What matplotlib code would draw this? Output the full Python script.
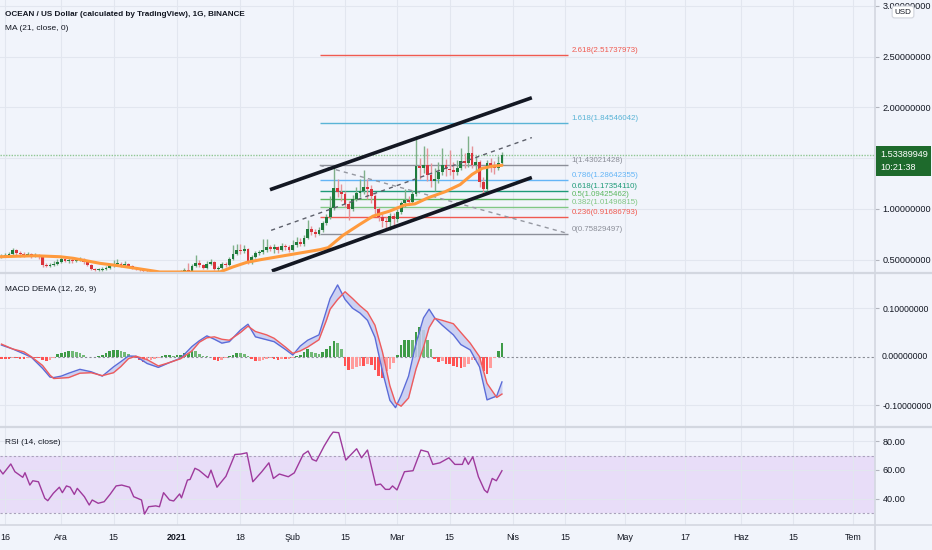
import matplotlib
matplotlib.use('Agg')
import matplotlib.pyplot as plt
import matplotlib.transforms as mtransforms
from matplotlib.lines import Line2D
import numpy as np

# daily candles, day 0 = 1 Jan 2021 (first candle 15 Nov 2020)
day0 = -47
first_open = 0.53
closes = [0.54, 0.55, 0.56, 0.60, 0.57, 0.56, 0.55, 0.56, 0.54, 0.55,
          0.53, 0.45, 0.44, 0.45, 0.46, 0.48, 0.51, 0.49, 0.50, 0.49,
          0.50, 0.51, 0.48, 0.45, 0.41, 0.40, 0.40, 0.41, 0.42, 0.44,
          0.46, 0.46, 0.45, 0.46, 0.44, 0.42, 0.41, 0.40, 0.39, 0.385,
          0.39, 0.385, 0.38, 0.385, 0.38, 0.38, 0.385, 0.38, 0.39, 0.40,
          0.39, 0.44, 0.47, 0.45, 0.42, 0.46, 0.48, 0.41, 0.42, 0.46,
          0.45, 0.51, 0.56, 0.60, 0.59, 0.61, 0.48, 0.53, 0.57, 0.58,
          0.60, 0.63, 0.61, 0.63, 0.60, 0.64, 0.63, 0.60, 0.65, 0.68,
          0.66, 0.71, 0.80, 0.77, 0.75, 0.79, 0.86, 0.92, 1.01, 1.21,
          1.17, 1.15, 1.05, 1.00, 1.10, 1.16, 1.18, 1.22, 1.20, 1.13,
          1.00, 0.92, 0.88, 0.87, 0.93, 0.90, 0.97, 1.06, 1.09, 1.07,
          1.15, 1.42, 1.40, 1.43, 1.33, 1.28, 1.30, 1.36, 1.43, 1.39,
          1.38, 1.36, 1.40, 1.47, 1.45, 1.55, 1.43, 1.46, 1.27, 1.20,
          1.45, 1.42, 1.40, 1.45, 1.53389949]
highs = [0.56, 0.57, 0.58, 0.62, 0.61, 0.59, 0.58, 0.58, 0.57, 0.57,
         0.56, 0.54, 0.47, 0.47, 0.49, 0.51, 0.53, 0.52, 0.52, 0.53,
         0.52, 0.53, 0.52, 0.49, 0.46, 0.42, 0.42, 0.43, 0.44, 0.46,
         0.50, 0.51, 0.48, 0.49, 0.47, 0.45, 0.43, 0.42, 0.41, 0.40,
         0.40, 0.395, 0.39, 0.39, 0.39, 0.385, 0.39, 0.39, 0.40, 0.42,
         0.47, 0.46, 0.55, 0.50, 0.46, 0.49, 0.51, 0.49, 0.44, 0.48,
         0.48, 0.53, 0.65, 0.66, 0.66, 0.65, 0.62, 0.55, 0.59, 0.60,
         0.70, 0.70, 0.65, 0.66, 0.64, 0.67, 0.66, 0.65, 0.69, 0.72,
         0.71, 0.74, 0.89, 0.83, 0.80, 0.82, 0.88, 0.95, 1.13, 1.42,
         1.30, 1.25, 1.18, 1.08, 1.14, 1.22, 1.30, 1.38, 1.30, 1.24,
         1.15, 1.02, 0.95, 0.92, 0.96, 0.96, 1.00, 1.08, 1.20, 1.13,
         1.19, 1.72, 1.50, 1.62, 1.60, 1.45, 1.40, 1.46, 1.60, 1.49,
         1.58, 1.46, 1.48, 1.60, 1.55, 1.72, 1.62, 1.52, 1.48, 1.31,
         1.48, 1.50, 1.47, 1.52, 1.56]
lows = [0.52, 0.53, 0.54, 0.55, 0.54, 0.53, 0.53, 0.54, 0.52, 0.53,
        0.51, 0.43, 0.43, 0.43, 0.44, 0.45, 0.47, 0.48, 0.47, 0.47,
        0.48, 0.49, 0.46, 0.44, 0.40, 0.39, 0.39, 0.39, 0.40, 0.41,
        0.43, 0.44, 0.43, 0.44, 0.43, 0.41, 0.40, 0.39, 0.38, 0.38,
        0.38, 0.38, 0.375, 0.375, 0.375, 0.375, 0.375, 0.375, 0.375, 0.385,
        0.38, 0.385, 0.43, 0.43, 0.41, 0.41, 0.45, 0.40, 0.39, 0.41,
        0.43, 0.44, 0.50, 0.55, 0.56, 0.57, 0.46, 0.46, 0.52, 0.55,
        0.56, 0.58, 0.59, 0.57, 0.57, 0.59, 0.60, 0.58, 0.59, 0.63,
        0.64, 0.64, 0.70, 0.74, 0.72, 0.74, 0.77, 0.84, 0.90, 0.99,
        1.12, 1.08, 1.02, 0.89, 0.98, 1.08, 1.12, 1.15, 1.10, 1.06,
        0.95, 0.88, 0.82, 0.80, 0.79, 0.84, 0.87, 0.95, 1.02, 1.04,
        1.05, 1.13, 1.30, 1.35, 1.28, 1.22, 1.18, 1.26, 1.33, 1.32,
        1.33, 1.30, 1.33, 1.38, 1.40, 1.41, 1.40, 1.38, 1.22, 1.15,
        1.18, 1.36, 1.34, 1.38, 1.43]

# MA (21, close)
ma_days = [-47.4, -38, -31.3, -27.8, -20.6, -15.3, -9.9, -4.6, 11.5, 15, 18.7,
           22.2, 31, 38.3, 40.5, 44.4, 49, 52.5, 57, 61, 63.7, 67.2, 71.8,
           75.8, 79, 81.7, 84.3, 87]
ma_vals = [0.53, 0.54, 0.53, 0.515, 0.465, 0.44, 0.41, 0.38, 0.38, 0.43, 0.475,
           0.50, 0.555, 0.60, 0.62, 0.74, 0.85, 0.93, 0.98, 1.04, 1.05, 1.11,
           1.17, 1.24, 1.34, 1.40, 1.42, 1.43]

# MACD DEMA (12, 26, 9)
macd_days = [-47, -44, -41, -39, -36, -34, -33, -31, -29, -26, -23, -20, -17, -15,
             -13, -11, -8, -5, -2, 1, 4, 6, 8, 10, 12, 14, 17, 19, 21, 24, 26, 29,
             31, 33, 35, 38, 40, 41, 43, 45, 47, 49, 51, 53, 55, 57, 58.5, 60, 62,
             64, 66, 67.5, 69, 71, 74, 76, 78.5, 81, 83, 85.6, 87]
macd_line = [0.024, 0.016, 0.006, -0.001, -0.024, -0.042, -0.043, -0.040, -0.034,
             -0.026, -0.031, -0.040, -0.021, -0.010, 0.0015, 0.001, -0.014, -0.022,
             -0.012, -0.003, 0.021, 0.033, 0.043, 0.036, 0.028, 0.031, 0.055, 0.067,
             0.041, 0.035, 0.031, 0.015, 0.0035, 0.022, 0.034, 0.045, 0.095, 0.120,
             0.148, 0.118, 0.100, 0.090, 0.075, 0.040, -0.030, -0.090, -0.105,
             -0.080, -0.040, 0.028, 0.080, 0.098, 0.080, 0.065, 0.045, 0.025, 0.014,
             -0.021, -0.089, -0.081, -0.052]
signal_line = [0.026, 0.016, 0.010, 0.000, -0.018, -0.038, -0.045, -0.044, -0.043,
               -0.034, -0.033, -0.039, -0.033, -0.020, -0.004, 0.001, -0.006, -0.019,
               -0.012, -0.004, 0.012, 0.030, 0.039, 0.041, 0.036, 0.034, 0.050, 0.063,
               0.052, 0.045, 0.038, 0.020, 0.007, 0.012, 0.020, 0.035, 0.075, 0.098,
               0.118, 0.134, 0.120, 0.105, 0.092, 0.065, 0.010, -0.060, -0.095,
               -0.102, -0.085, -0.025, 0.020, 0.060, 0.079, 0.075, 0.068, 0.050,
               0.028, 0.000, -0.055, -0.084, -0.077]
hist = [-0.004, -0.004, -0.004, -0.003, -0.003, -0.004, -0.005, -0.003, -0.002, -0.002,
        -0.003, -0.006, -0.008, -0.007, -0.003, 0.005, 0.008, 0.010, 0.012, 0.011,
        0.009, 0.007, 0.003, -0.001, -0.001, -0.001, 0.001, 0.004, 0.008, 0.011,
        0.013, 0.014, 0.012, 0.009, 0.005, 0.002, -0.002, -0.006, -0.010, -0.009,
        -0.007, -0.004, -0.002, 0.002, 0.003, 0.003, 0.002, 0.004, 0.004, 0.008,
        0.008, 0.013, 0.012, 0.006, 0.002, 0.001, -0.001, -0.006, -0.008, -0.006,
        -0.003, 0.001, 0.004, 0.008, 0.007, 0.005, 0.001, -0.004, -0.009, -0.008,
        -0.006, -0.004, -0.002, -0.005, -0.006, -0.005, -0.005, -0.004, -0.002, 0.001,
        0.004, 0.009, 0.015, 0.010, 0.007, 0.006, 0.010, 0.016, 0.022, 0.033,
        0.028, 0.015, -0.020, -0.027, -0.026, -0.022, -0.020, -0.020, -0.016, -0.018,
        -0.028, -0.040, -0.044, -0.030, -0.026, -0.012, 0.004, 0.025, 0.034, 0.035,
        0.034, 0.050, 0.062, 0.055, 0.035, 0.016, -0.005, -0.010, -0.008, -0.014,
        -0.016, -0.020, -0.022, -0.024, -0.022, -0.016, -0.006, -0.006, -0.018, -0.030,
        -0.036, -0.024, -0.002, 0.012, 0.028]

# RSI (14, close)
rsi_days = [-47.4, -46.6, -44.5, -43.4, -41.3, -40.7, -39.4, -38.6, -37.1, -35.4,
            -34.6, -33.1, -31.5, -30.7, -29.6, -28.6, -27.5, -26.7, -24.8, -23.5,
            -22.7, -21.1, -19.5, -17.9, -16.3, -14.8, -12.7, -11.6, -9.5, -8.7,
            -7.6, -5.7, -4.7, -3.6, -2.0, -0.9, 0.7, 1.2, 2.8, 3.5,
            4.8, 5.9, 8.3, 9.1, 10.7, 13.1, 15.5, 17.1, 18.7, 20.3,
            22.7, 24.6, 25.8, 27.4, 29.8, 31.4, 33.8, 35.1, 36.2, 37.3,
            39.4, 41.0, 41.8, 43.3, 45.2, 46.9, 48.1, 49.4, 51.0, 53.2,
            54.5, 55.8, 56.9, 57.7, 58.9, 60.9, 63.2, 65.3, 67.2, 68.5,
            70.4, 72.8, 74.4, 76.4, 77.1, 78.0, 79.2, 80.7, 82.3, 83.1,
            84.4, 85.5, 87.0]
rsi_vals = [60, 57.2, 64.2, 58.8, 54.9, 58.1, 49.5, 52.5, 51.8, 40.3,
            38.6, 43.8, 48, 44.2, 48.9, 48, 43, 47.2, 41.4, 35.6,
            39.1, 36.8, 37.9, 43.1, 48.9, 49.5, 48, 41.4, 39.1, 29.3,
            34.4, 35, 34.4, 44.2, 39.1, 38.4, 43.3, 40.6, 53, 53.4,
            61.2, 59.8, 54.6, 59.9, 48, 55.6, 70.8, 71.1, 72, 51.8,
            58.8, 65, 54.1, 57.2, 55.3, 58, 70.9, 73.2, 67.4, 66.2,
            76.7, 83.6, 86.4, 86, 66.9, 71.6, 74.8, 68.5, 73.9, 49.5,
            50.2, 46.5, 46.5, 48.9, 46.1, 58.8, 59.5, 73.9, 72.6, 63.9,
            65, 68.5, 63.9, 63.9, 68.5, 63.9, 69.2, 55.3, 46.1, 44.2,
            54.1, 52.5, 59.5]

# fibonacci retracement
fib_ratios = ['0', '0.236', '0.382', '0.5', '0.618', '0.786', '1', '1.618', '2.618']
fib_prices = [0.75829497, 0.91686793, 1.01496815, 1.09425462, 1.17354110,
              1.28642355, 1.43021428, 1.84546042, 2.51737973]
fib_colors = ['#8c8f99', '#f05a50', '#81c784', '#5cb860', '#1f9b78',
              '#64b5f6', '#8c8f99', '#5ab4d6', '#f05a50']
fib_start, fib_end = 38.2, 104.7

# channel drawn on chart: (day, price) endpoints
chan_upper = ([24.9, 95.0], [1.19, 2.095])
chan_lower = ([25.4, 95.0], [0.39, 1.31])
chan_mid = ([25.2, 95.0], [0.79, 1.703])

last_price = 1.53389949

date_ticks = [-46, -31, -17, 0, 17, 31, 45, 59, 73, 90, 104, 120, 136, 151, 165, 181]
date_labels = ['16', 'Ara', '15', '2021', '18', 'Şub', '15', 'Mar', '15', 'Nis',
               '15', 'May', '17', 'Haz', '15', 'Tem']

BG = '#f1f4fb'
GRID = '#e2e6ef'
SEP = '#d3d7e0'
TXT = '#131722'
AXFS = 6.6
plt.rcParams['font.family'] = ['Liberation Sans', 'DejaVu Sans']

W, H = 932, 550
fig = plt.figure(figsize=(W / 100, H / 100), dpi=100, facecolor=BG)


def pane(top, bottom, fs=AXFS):
    ax = fig.add_axes([0, 1 - bottom / H, 875 / W, (bottom - top) / H])
    ax.set_facecolor(BG)
    for s in ax.spines.values():
        s.set_visible(False)
    ax.set_xlim(-47.39, 186.88)
    ax.set_xticks(date_ticks)
    ax.grid(True, color=GRID, lw=0.8, zorder=0)
    ax.set_axisbelow(True)
    ax.yaxis.tick_right()
    ax.tick_params(axis='y', length=3, width=0.8, color='#b2b5be', labelsize=fs,
                   pad=2.5, labelcolor=TXT)
    ax.tick_params(axis='x', length=0, labelbottom=False)
    return ax


ax = pane(0, 273)
ax2 = pane(273, 426.7, 6.3)
ax3 = pane(426.7, 525)

# ---- price pane
ax.set_ylim(0.370, 3.057)
ax.set_yticks([0.5, 1.0, 1.5, 2.0, 2.5, 3.0])
ax.set_yticklabels(['0.50000000', '1.00000000', '', '2.00000000', '2.50000000', '3.00000000'])

days = np.arange(day0, day0 + len(closes))
c = np.array(closes)
o = np.concatenate([[first_open], c[:-1]])
up = c >= o
body_col = np.where(up, '#1e7b3c', '#d9343c')
wick_col = np.where(up, '#7fb08a', '#e6949a')
ax.vlines(days, lows, highs, colors=wick_col, lw=1, zorder=2)
bot = np.minimum(o, c)
hgt = np.maximum(np.abs(c - o), 0.005)
ax.bar(days, hgt, bottom=bot, width=0.76, color=body_col, zorder=3)

ax.plot(ma_days, ma_vals, color='#ff9a3d', lw=2.2, zorder=4, solid_capstyle='round')

ax.axhline(last_price, color='#8fc693', lw=1, ls=(0, (1, 1)), zorder=1)

for r, p, col in zip(fib_ratios, fib_prices, fib_colors):
    ax.hlines(p, fib_start, fib_end, color=col, lw=1, zorder=1.5)
    ax.text(fib_end + 1, p + 0.01, f'{r}({p:.8f})', color=col, fontsize=5.7,
            va='bottom', ha='left')
ax.plot([fib_start, fib_end], [fib_prices[6], fib_prices[0]], color='#9598a1', lw=1,
        ls=(0, (3, 3)), zorder=1.6)

ax.plot(*chan_upper, color=TXT, lw=2.6, zorder=5, solid_capstyle='butt')
ax.plot(*chan_lower, color=TXT, lw=2.6, zorder=5, solid_capstyle='butt')
ax.plot(*chan_mid, color='#5d606b', lw=1, ls=(0, (3, 3)), zorder=5)

trans = mtransforms.blended_transform_factory(ax.transAxes, ax.transData)
ax.annotate(f'{last_price:.8f}\n10:21:38', xy=(1, last_price), xycoords=trans,
            xytext=(5, -6), textcoords='offset pixels', ha='left', va='center',
            color='white', fontsize=AXFS, linespacing=1.6, annotation_clip=False,
            bbox=dict(boxstyle='square,pad=0.4', fc='#1e6a2c', ec='none'), zorder=10)

# ---- MACD pane
ax2.set_ylim(-0.1443, 0.1726)
ax2.set_yticks([-0.1, 0.1])
ax2.set_yticklabels(['-0.10000000', '0.10000000'])
ax2.axhline(0, color='#8a8d96', lw=0.8, ls=(0, (2, 2)), zorder=1)
hv = np.array(hist)
prev = np.concatenate([[hv[0]], hv[:-1]])
hcol = np.where(hv >= 0, np.where(hv >= prev, '#3e9b47', '#72b977'),
                np.where(hv <= prev, '#ff5252', '#ff9c9c'))
ax2.bar(days, hv, width=0.72, color=hcol, zorder=2)
ax2.fill_between(macd_days, macd_line, signal_line, color='#c6cbf1', alpha=0.85, lw=0, zorder=3)
ax2.plot(macd_days, macd_line, color='#5b6cd8', lw=1, zorder=4)
ax2.plot(macd_days, signal_line, color='#ef5b5b', lw=1, zorder=4)
ax2.text(1.0077, 0, '0.00000000', transform=mtransforms.blended_transform_factory(
    ax2.transAxes, ax2.transData), fontsize=6.3, color=TXT, va='center', ha='left')

# ---- RSI pane
ax3.set_ylim(21.67, 90.17)
ax3.set_yticks([40, 60, 80])
ax3.set_yticklabels(['40.00', '60.00', '80.00'])
ax3.axhspan(30, 70, color='#e8ddf8', lw=0, zorder=0.5)
ax3.axhline(70, color='#a9a2bb', lw=0.8, ls=(0, (2, 2)), zorder=1)
ax3.axhline(30, color='#a9a2bb', lw=0.8, ls=(0, (2, 2)), zorder=1)
ax3.plot(rsi_days, rsi_vals, color='#9e3a9c', lw=1, zorder=3)
ax3.set_xticklabels(date_labels)
ax3.tick_params(axis='x', labelbottom=True, labelsize=6.4, pad=6, labelcolor=TXT)
for t in ax3.get_xticklabels():
    if t.get_text() == '2021':
        t.set_fontweight('bold')


def px_line(x0, y0, x1, y1, **kw):
    fig.add_artist(Line2D([x0 / W, x1 / W], [1 - y0 / H, 1 - y1 / H],
                          transform=fig.transFigure, **kw))


px_line(0, 273, W, 273, color=SEP, lw=1.6)
px_line(0, 426.7, W, 426.7, color=SEP, lw=1.6)
px_line(0, 525, W, 525, color=SEP, lw=1.2)
px_line(875, 0, 875, H, color=SEP, lw=1.2)

fig.text(5 / W, 1 - 14 / H, 'OCEAN / US Dollar (calculated by TradingView), 1G, BINANCE',
         fontsize=5.9, fontweight='bold', color=TXT, va='center')
fig.text(5 / W, 1 - 28 / H, 'MA (21, close, 0)', fontsize=6.0, color=TXT, va='center')
fig.text(5 / W, 1 - 289 / H, 'MACD DEMA (12, 26, 9)', fontsize=6.0, color=TXT, va='center')
fig.text(5 / W, 1 - 442 / H, 'RSI (14, close)', fontsize=6.0, color=TXT, va='center')
fig.text(903 / W, 1 - 12 / H, 'USD', fontsize=5.8, color=TXT, ha='center', va='center',
         bbox=dict(boxstyle='round,pad=0.3', fc='white', ec='#d1d4dc', lw=0.8), zorder=20)

fig.savefig('out.png', dpi=100, facecolor=BG)
